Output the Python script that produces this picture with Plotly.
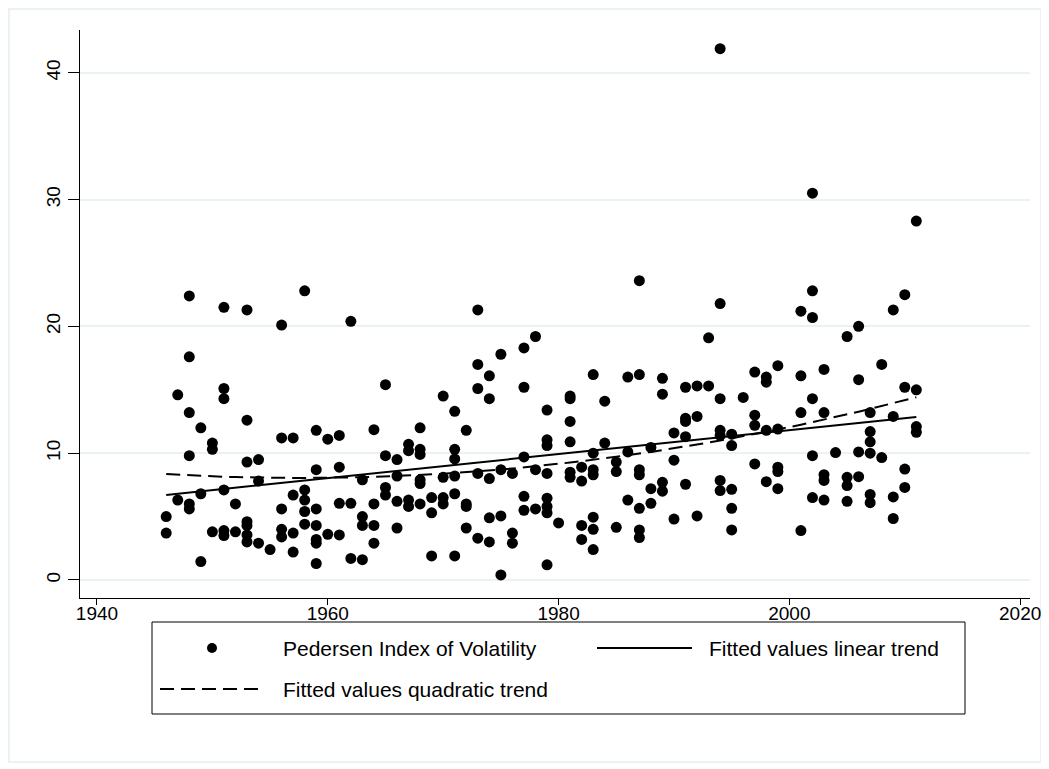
import numpy as np
import plotly.graph_objects as go

# Election years and Pedersen volatility values observed in each year
years = [1946, 1947, 1948, 1949, 1950, 1951, 1952, 1953, 1954, 1955, 1956, 1957,
         1958, 1959, 1960, 1961, 1962, 1963, 1964, 1965, 1966, 1967, 1968, 1969,
         1970, 1971, 1972, 1973, 1974, 1975, 1976, 1977, 1978, 1979, 1980, 1981,
         1982, 1983, 1984, 1985, 1986, 1987, 1988, 1989, 1990, 1991, 1992, 1993,
         1994, 1995, 1996, 1997, 1998, 1999, 2001, 2002, 2003, 2004, 2005, 2006,
         2007, 2008, 2009, 2010, 2011]
values_by_year = [
    [5.0, 3.7],
    [14.6, 6.3],
    [22.4, 17.6, 13.2, 9.8, 6.0, 5.6],
    [12.0, 6.8, 1.45],
    [10.8, 10.3, 3.8],
    [21.5, 15.1, 14.3, 7.1, 3.9, 3.5],
    [6.0, 3.8],
    [21.3, 12.6, 9.3, 4.6, 4.3, 3.55, 3.0],
    [9.5, 7.8, 2.9],
    [2.4],
    [20.1, 11.2, 5.6, 4.0, 3.4],
    [11.2, 6.7, 3.7, 2.2],
    [22.8, 7.1, 6.3, 5.4, 4.4],
    [11.8, 8.7, 5.6, 4.3, 3.2, 2.9, 1.3],
    [11.1, 3.6],
    [11.4, 8.9, 6.05, 3.55],
    [20.4, 6.05, 1.7],
    [7.9, 5.0, 4.3, 1.6],
    [11.85, 6.0, 4.3, 2.9],
    [15.4, 9.8, 7.3, 6.7],
    [9.5, 8.2, 6.2, 4.1],
    [10.7, 10.2, 6.3, 5.8],
    [12.0, 10.3, 9.9, 7.9, 7.6, 6.0],
    [6.5, 5.3, 1.9],
    [14.5, 8.1, 6.5, 6.0],
    [13.3, 10.3, 9.55, 8.2, 6.8, 1.9],
    [11.8, 6.0, 5.8, 4.1],
    [21.3, 17.0, 15.1, 8.4, 3.3],
    [16.1, 14.3, 8.0, 4.9, 3.0],
    [17.8, 8.7, 5.05, 0.4],
    [8.4, 3.7, 2.9],
    [18.3, 15.2, 9.7, 6.6, 5.5],
    [19.2, 8.7, 5.6],
    [13.4, 11.05, 10.6, 8.4, 6.45, 5.8, 5.3, 1.2],
    [4.5],
    [14.5, 14.3, 12.5, 10.9, 8.5, 8.1],
    [8.9, 7.8, 4.3, 3.2],
    [16.2, 10.0, 8.7, 8.3, 4.95, 4.0, 2.4],
    [14.1, 10.8],
    [9.3, 8.55, 4.15],
    [16.0, 10.1, 6.3],
    [23.6, 16.2, 8.7, 8.3, 5.65, 3.95, 3.35],
    [10.45, 7.2, 6.05],
    [15.9, 14.65, 7.7, 7.0],
    [11.6, 9.45, 4.8],
    [15.2, 12.75, 12.5, 11.3, 7.55],
    [15.3, 12.9, 5.05],
    [19.1, 15.3],
    [41.9, 21.8, 14.3, 11.8, 11.4, 7.85, 7.05],
    [11.5, 10.6, 7.15, 5.65, 3.95],
    [14.4],
    [16.4, 13.0, 12.2, 9.15],
    [16.0, 15.6, 11.8, 7.75],
    [16.9, 11.9, 8.9, 8.55, 7.2],
    [21.2, 16.1, 13.2, 3.9],
    [30.5, 22.8, 20.7, 14.3, 9.8, 6.5],
    [16.6, 13.2, 8.3, 7.85, 6.3],
    [10.05],
    [19.2, 8.1, 7.45, 6.2],
    [20.0, 15.8, 10.1, 8.15],
    [13.2, 11.7, 10.9, 10.0, 6.75, 6.1],
    [17.0, 9.65],
    [21.3, 12.9, 6.55, 4.85],
    [22.5, 15.2, 8.75, 7.3],
    [28.3, 15.0, 12.1, 11.65],
]
x_ticks = [1940, 1960, 1980, 2000, 2020]
y_ticks = [0, 10, 20, 30, 40]
legend_labels = ["Pedersen Index of Volatility", "Fitted values linear trend",
                 "Fitted values quadratic trend"]

# flatten to observation table
obs_year = np.array([y for y, vals in zip(years, values_by_year) for _ in vals], dtype=float)
obs_val = np.array([v for vals in values_by_year for v in vals], dtype=float)

# fitted trends (OLS) evaluated at the observed years
yr = np.array(years, dtype=float)
lin = np.polyval(np.polyfit(obs_year, obs_val, 1), yr)
quad = np.polyval(np.polyfit(obs_year, obs_val, 2), yr)

FONT = "Liberation Sans, Arial, sans-serif"
GRID = "#EAF2F3"
TICK_SIZE = 19
LEG_SIZE = 21

fig = go.Figure()
fig.add_trace(go.Scatter(x=obs_year, y=obs_val, mode="markers", name=legend_labels[0],
                         marker=dict(color="black", size=11), showlegend=False))
fig.add_trace(go.Scatter(x=yr, y=lin, mode="lines", name=legend_labels[1],
                         line=dict(color="black", width=2), showlegend=False))
fig.add_trace(go.Scatter(x=yr, y=quad, mode="lines", name=legend_labels[2],
                         line=dict(color="black", width=2, dash="14px,7px"), showlegend=False))

# the page body has an 8px margin: work in page pixels, convert to figure pixels
OFF = 8
FIG_W, FIG_H = 1049, 769
L, R, T, B = 80 - OFF, 1030 - OFF, 30 - OFF, 598 - OFF
W, H = R - L, B - T
def px(x):  # page x -> paper
    return (x - OFF - L) / W
def py(y):  # page y -> paper
    return (B - (y - OFF)) / H

LEG_TOP, LEG_BOT = 622, 714
ROW1, ROW2 = 648, 689

shapes = []
# outer graph border
shapes.append(dict(type="rect", xref="paper", yref="paper",
                   x0=px(OFF + 1), x1=px(1041), y0=py(762), y1=py(OFF + 1),
                   line=dict(color=GRID, width=2), fillcolor="rgba(0,0,0,0)", layer="below"))
# legend box
shapes.append(dict(type="rect", xref="paper", yref="paper",
                   x0=px(152), x1=px(965), y0=py(LEG_BOT), y1=py(LEG_TOP),
                   line=dict(color="black", width=1), fillcolor="rgba(0,0,0,0)"))
# legend symbols
shapes.append(dict(type="circle", xref="paper", yref="paper", xsizemode="pixel", ysizemode="pixel",
                   xanchor=px(212), yanchor=py(ROW1), x0=-5, x1=5, y0=-5, y1=5,
                   fillcolor="black", line=dict(color="black", width=0)))
shapes.append(dict(type="line", xref="paper", yref="paper",
                   x0=px(597), x1=px(692), y0=py(ROW1), y1=py(ROW1),
                   line=dict(color="black", width=2)))
shapes.append(dict(type="line", xref="paper", yref="paper",
                   x0=px(160), x1=px(262), y0=py(ROW2), y1=py(ROW2),
                   line=dict(color="black", width=2, dash="14px,7px")))

annotations = []
for text, xx, yy in [(legend_labels[0], 281, ROW1), (legend_labels[1], 707, ROW1),
                     (legend_labels[2], 281, ROW2)]:
    annotations.append(dict(text=text, xref="paper", yref="paper", x=px(xx), y=py(yy),
                            xanchor="left", yanchor="middle", showarrow=False,
                            font=dict(family=FONT, size=LEG_SIZE, color="black")))

fig.update_layout(
    width=FIG_W, height=FIG_H,
    margin=dict(l=L, r=FIG_W - R, t=T, b=FIG_H - B, pad=0),
    paper_bgcolor="white", plot_bgcolor="white",
    font=dict(family=FONT, size=TICK_SIZE, color="black"),
    shapes=shapes, annotations=annotations,
    showlegend=False,
)
fig.update_xaxes(range=[1938.53, 2020.85], tickvals=x_ticks, ticktext=[str(t) for t in x_ticks],
                 showgrid=False, zeroline=False, showline=True, linecolor="black", linewidth=1,
                 ticks="outside", ticklen=6, tickcolor="black", tickfont=dict(size=TICK_SIZE),
                 ticklabelstandoff=-8)
fig.update_yaxes(range=[-1.42, 43.37], tickvals=y_ticks, ticktext=[str(t) for t in y_ticks],
                 showgrid=True, gridcolor=GRID, gridwidth=2, zeroline=False,
                 showline=True, linecolor="black", linewidth=1,
                 ticks="outside", ticklen=11, tickcolor="black", tickangle=-90,
                 tickfont=dict(size=TICK_SIZE))

fig.write_html("out.html")
